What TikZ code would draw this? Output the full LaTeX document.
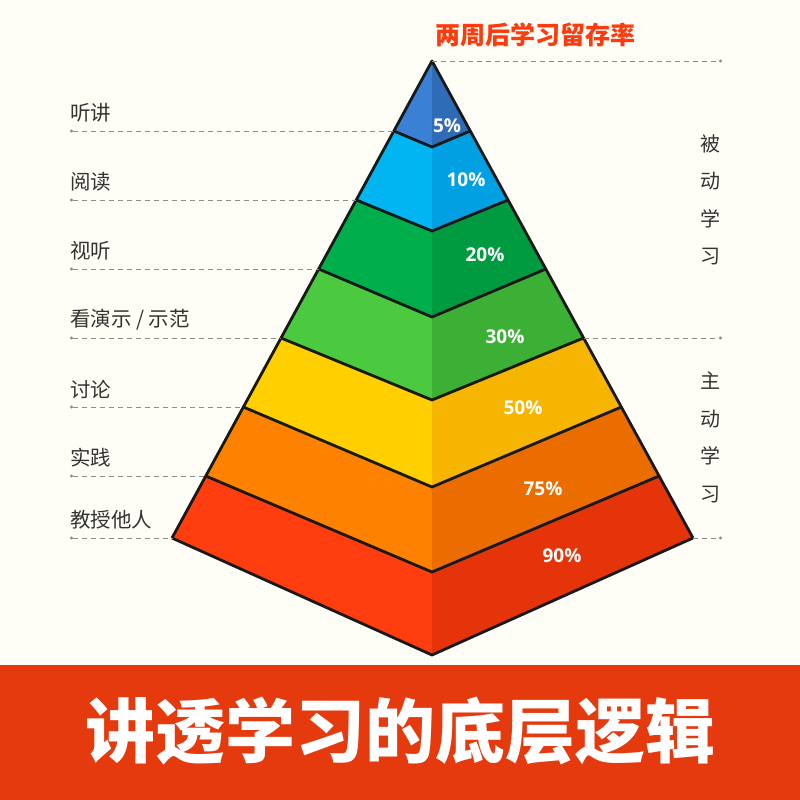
\documentclass[tikz,border=0pt]{standalone}
\usepackage{fontspec}
\setmainfont{Noto Sans CJK SC}
\newfontfamily\numfont{Open Sans}
\usetikzlibrary{arrows.meta,positioning}

\definecolor{paper}{HTML}{FFFEF6}
\definecolor{band}{HTML}{E5390E}
\definecolor{headred}{HTML}{FF3A0C}
\definecolor{blueL}{HTML}{3A80D4}
\definecolor{blueR}{HTML}{2F6CB8}
\definecolor{cyanL}{HTML}{00B5F1}
\definecolor{cyanR}{HTML}{00A0E3}
\definecolor{greenL}{HTML}{00AF4C}
\definecolor{greenR}{HTML}{009A41}
\definecolor{limeL}{HTML}{4CCA3F}
\definecolor{limeR}{HTML}{3BB035}
\definecolor{yellowL}{HTML}{FFCF00}
\definecolor{yellowR}{HTML}{F5B500}
\definecolor{orangeL}{HTML}{FF8100}
\definecolor{orangeR}{HTML}{EB6D00}
\definecolor{redL}{HTML}{FF3D0F}
\definecolor{redR}{HTML}{E6340A}

\begin{document}
\begin{tikzpicture}[x=1pt,y=-1pt,
    edge/.style={draw=black!90,line width=2.8pt,line join=round},
    guide/.style={draw=black!45,line width=0.9pt,dash pattern=on 5pt off 4pt},
    lbl/.style={anchor=west,inner sep=0pt,text=black!80,font=\fontsize{20.5}{24}\selectfont},
    pct/.style={text=white,font=\numfont\bfseries\fontsize{19}{22}\selectfont},
    side/.style={align=center,text=black!80,font=\fontsize{20}{37.5}\selectfont}]
    \useasboundingbox (0,0) rectangle (800,800);
    \fill[paper] (0,0) rectangle (800,800);
    \fill[band] (0,665) rectangle (800,800);

    % corners of every layer: left edge, middle ridge, right edge
    \foreach \i/\y/\c in {0/61/61,1/131/147,2/200/231,3/269/317,4/338/400,5/407/487,6/476/572,7/538/655}{
        \coordinate (L\i) at ({432-(\y-61)*0.5451},\y);
        \coordinate (C\i) at (432,\c);
        \coordinate (R\i) at ({432+(\y-61)*0.5472},\y);
    }

    % the two faces of each layer
    \foreach \j/\k/\cl/\cr in {1/0/blueL/blueR,2/1/cyanL/cyanR,3/2/greenL/greenR,4/3/limeL/limeR,5/4/yellowL/yellowR,6/5/orangeL/orangeR,7/6/redL/redR}{
        \fill[\cl] (L\k) -- (C\k) -- (C\j) -- (L\j) -- cycle;
        \fill[\cr] (C\k) -- (R\k) -- (R\j) -- (C\j) -- cycle;
    }
    \foreach \i in {1,...,7}
        \draw[edge] (L\i) -- (C\i) -- (R\i);
    \draw[edge] (L7) -- (L0) -- (R7);

    % left guides and labels
    \foreach \i/\t in {1/听讲,2/阅读,3/视听,4/{看演示 / 示范},5/讨论,6/实践,7/教授他人}{
        \coordinate (a\i) at (70,0 |- L\i);
        \draw[guide,{Circle[length=3pt]}-] (a\i) -- (L\i);
        \node[lbl] (t\i) at ([yshift=18pt]a\i) {\t};
    }

    % right guides
    \foreach \i in {0,4,7}{
        \coordinate (b\i) at (722,0 |- R\i);
        \draw[guide,-{Circle[length=3pt]}] (R\i) -- (b\i);
    }
    \node[side] (passive) at (710,200) {被\\动\\学\\习};
    \node[side] (active) at (710,437.5) {主\\动\\学\\习};

    % retention values
    \foreach \j/\x/\y/\t in {1/447/126/5\%,2/466/180/10\%,3/485/255/20\%,4/505/337/30\%,5/523/408/50\%,6/543/489/75\%,7/562/556/90\%}
        \node[pct] (p\j) at (\x,\y) {\t};

    \node[text=headred,font=\bfseries\fontsize{25}{30}\selectfont] (title) at (535,35) {两周后学习留存率};
    \node[text=white,font=\bfseries\fontsize{70}{80}\selectfont] (slogan) at (400,731) {讲透学习的底层逻辑};
\end{tikzpicture}
\end{document}
